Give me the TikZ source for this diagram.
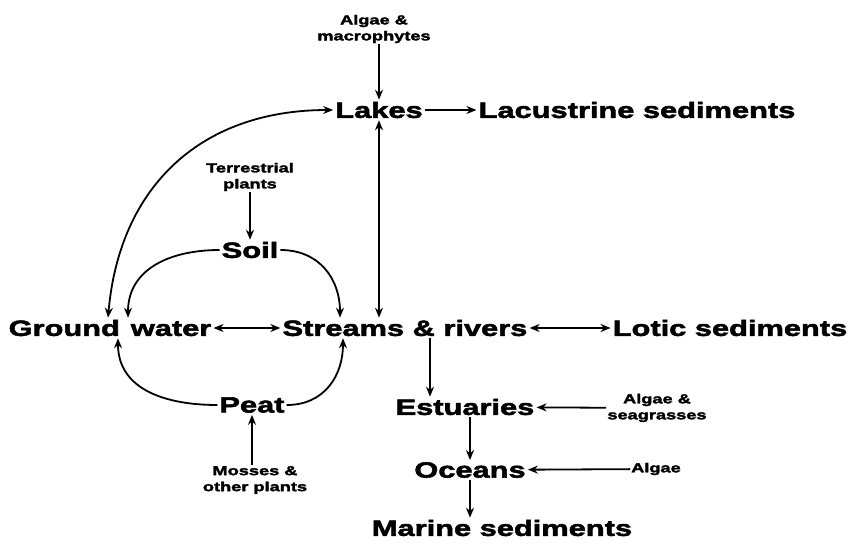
\documentclass[tikz,border=0pt]{standalone}
\usepackage{fontspec}
\setmainfont{Liberation Sans}[FakeStretch=1.4, BoldFeatures={FakeBold=2.5}]
\usetikzlibrary{arrows.meta,calc,positioning}
\tikzset{
  big/.style={font=\bfseries\fontsize{22}{24}\selectfont, inner sep=2pt},
  small/.style={font=\bfseries\fontsize{13}{16}\selectfont, align=center, inner sep=1pt},
  flow/.style={-{Stealth[length=10pt,width=8pt]}, line width=1.8pt},
  both/.style={{Stealth[length=10pt,width=8pt]}-{Stealth[length=10pt,width=8pt]}, line width=1.8pt},
}
\begin{document}
\begin{tikzpicture}[x=1pt,y=-1pt]
  \useasboundingbox (0,0) rectangle (851,545);
  % sources
  \node[small] (algmac) at (374,29) {Algae \&\\macrophytes};
  \node[small] (terr) at (250,177) {Terrestrial\\plants};
  \node[small] (moss) at (255,480) {Mosses \&\\other plants};
  \node[small] (algsea) at (657,408) {Algae \&\\seagrasses};
  \node[small] (algae) at (656,469) {Algae};
  % pools
  \node[big] (lakes) at (379,110) {Lakes};
  \node[big] (lacus) at (637,110) {Lacustrine sediments};
  \node[big] (soil) at (250,250) {Soil};
  \node[big] (gw) at (110,328) {Ground\hspace{0.5em}water};
  \node[big] (st) at (405,328) {Streams \& rivers};
  \node[big] (lotic) at (730,328) {Lotic sediments};
  \node[big] (peat) at (252,405) {Peat};
  \node[big] (est) at (465,407) {Estuaries};
  \node[big] (oce) at (470,470) {Oceans};
  \node[big] (marine) at (502,528) {Marine sediments};
  % straight flows
  \draw[flow] (algmac.south -| lakes.north) -- (lakes.north);
  \draw[flow] (lakes) -- (lacus);
  \draw[both] (lakes.south) -- (lakes.south |- st.north);
  \draw[flow] (terr.south) -- (soil.north);
  \draw[both] (gw) -- (st);
  \draw[both] (st) -- (lotic);
  \draw[flow] (moss.north -| peat.south) -- (peat.south);
  \draw[flow] ([xshift=25pt]st.south) -- ([xshift=25pt]st.south |- est.north);
  \draw[flow] (algsea) -- (est);
  \draw[flow] (est.south -| oce.north) -- (oce.north);
  \draw[flow] (algae) -- (oce);
  \draw[flow] (oce.south) -- (oce.south |- marine.north);
  % curved flows
  \draw[both] (lakes.west) to[out=180,in=85,looseness=1.1] ([xshift=-2pt]gw.north);
  \draw[flow] (soil.west) to[out=180,in=90,looseness=1.1] ([xshift=18pt]gw.north);
  \draw[flow] (soil.east) to[out=0,in=90,looseness=1.1] ([xshift=-65pt]st.north);
  \draw[flow] (peat.west) to[out=180,in=-90,looseness=1.1] ([xshift=8pt]gw.south);
  \draw[flow] (peat.east) to[out=0,in=-90,looseness=1.1] ([xshift=-62pt]st.south);
\end{tikzpicture}
\end{document}
